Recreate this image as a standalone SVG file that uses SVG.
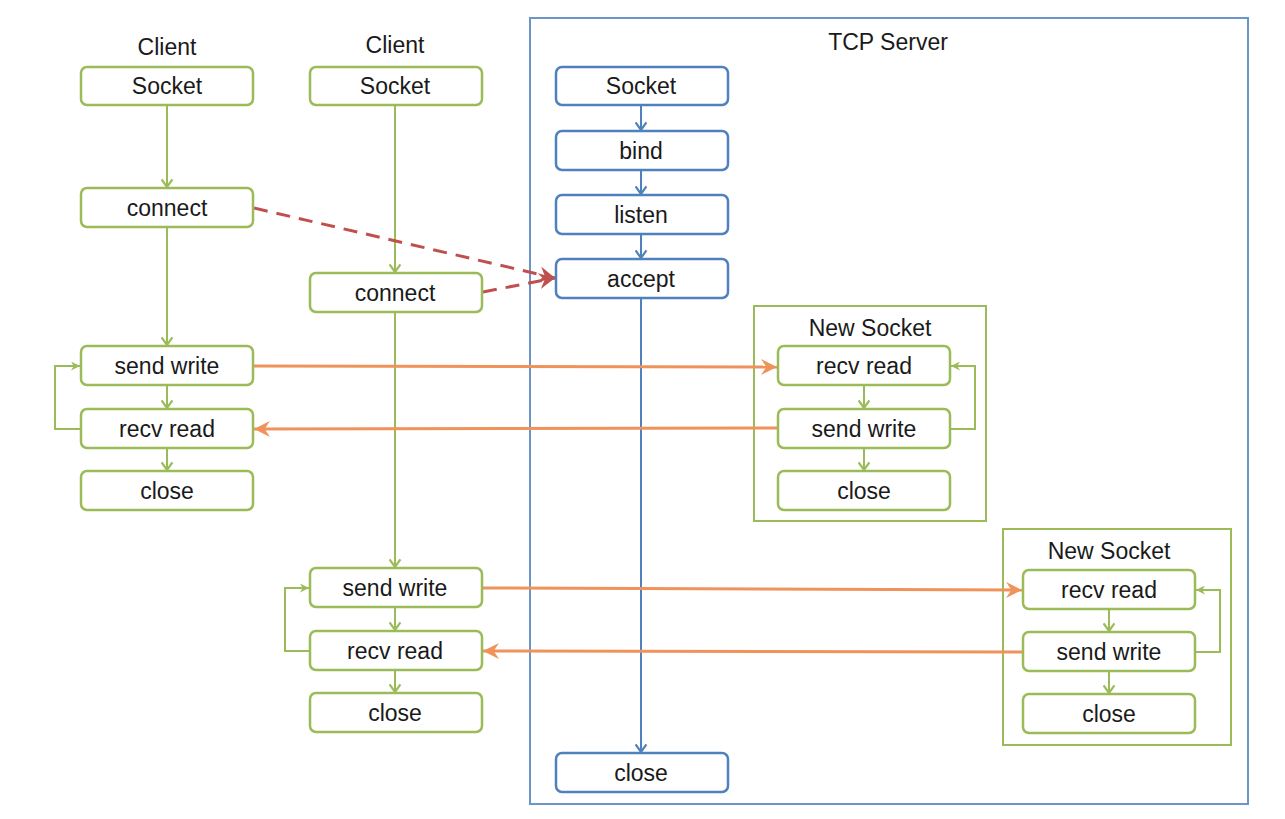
<svg xmlns="http://www.w3.org/2000/svg" width="1285" height="819" viewBox="0 0 1285 819">
<style>
.g{fill:#fff;stroke:#9bbb59;stroke-width:2.5}
.b{fill:#fff;stroke:#4f81bd;stroke-width:2.5}
.t{font-family:"Liberation Sans",Arial,sans-serif;font-size:23px;fill:#1a1a1a;text-anchor:middle;dominant-baseline:central}
.gl{fill:none;stroke:#9bbb59;stroke-width:2}
.bl{fill:none;stroke:#4f81bd;stroke-width:2}
.ol{fill:none;stroke:#f0935a;stroke-width:3}
.rl{fill:none;stroke:#c0504d;stroke-width:3;stroke-dasharray:14,9}
</style>
<defs>
<marker id="ag" viewBox="0 0 10 10" refX="10" refY="5" markerWidth="9" markerHeight="9" orient="auto" markerUnits="userSpaceOnUse"><path d="M0,0 L10,5 L0,10 L3,5 z" fill="#9bbb59"/></marker>
<marker id="agv" viewBox="0 0 12 12" refX="11" refY="6" markerWidth="13" markerHeight="13" orient="auto" markerUnits="userSpaceOnUse"><path d="M4,1 L11,6 L4,11" fill="none" stroke="#9bbb59" stroke-width="2"/></marker>
<marker id="abv" viewBox="0 0 12 12" refX="11" refY="6" markerWidth="13" markerHeight="13" orient="auto" markerUnits="userSpaceOnUse"><path d="M4,1 L11,6 L4,11" fill="none" stroke="#4f81bd" stroke-width="2"/></marker>
<marker id="ao" viewBox="0 0 12 12" refX="12" refY="6" markerWidth="16" markerHeight="16" orient="auto" markerUnits="userSpaceOnUse"><path d="M0,0 L12,6 L0,12 L4,6 z" fill="#f0935a"/></marker>
<marker id="ar" viewBox="0 0 12 12" refX="12" refY="6" markerWidth="16" markerHeight="16" orient="auto" markerUnits="userSpaceOnUse"><path d="M0,0 L12,6 L0,12 L4,6 z" fill="#c0504d"/></marker>
</defs>
<rect width="1285" height="819" fill="#fff"/>

<g id="server">
<rect x="530" y="18" width="718" height="786" fill="none" stroke="#6b94c8" stroke-width="2"/>
<text class="t" x="888" y="42">TCP Server</text>
</g>
<g id="newsocket1">
<rect x="754" y="306" width="232" height="215" fill="none" stroke="#9bbb59" stroke-width="2"/>
<text class="t" x="870" y="328">New Socket</text>
</g>
<g id="newsocket2">
<rect x="1003" y="529" width="228" height="216" fill="none" stroke="#9bbb59" stroke-width="2"/>
<text class="t" x="1109" y="551">New Socket</text>
</g>
<g id="client1-label"><text class="t" x="167" y="47">Client</text></g>
<g id="client2-label"><text class="t" x="395" y="45">Client</text></g>

<g id="connectors">
<line class="gl" x1="167" y1="106" x2="167" y2="187" marker-end="url(#agv)"/>
<line class="gl" x1="167" y1="228" x2="167" y2="345" marker-end="url(#agv)"/>
<line class="gl" x1="167" y1="386" x2="167" y2="408" marker-end="url(#agv)"/>
<line class="gl" x1="167" y1="449" x2="167" y2="470" marker-end="url(#agv)"/>
<path class="gl" d="M81,429 H55 V366 H80" marker-end="url(#ag)"/>

<line class="gl" x1="395" y1="106" x2="395" y2="272" marker-end="url(#agv)"/>
<line class="gl" x1="395" y1="313" x2="395" y2="567" marker-end="url(#agv)"/>
<line class="gl" x1="395" y1="608" x2="395" y2="630" marker-end="url(#agv)"/>
<line class="gl" x1="395" y1="671" x2="395" y2="692" marker-end="url(#agv)"/>
<path class="gl" d="M310,651 H285 V588 H309" marker-end="url(#ag)"/>

<line class="bl" x1="641" y1="106" x2="641" y2="130" marker-end="url(#abv)"/>
<line class="bl" x1="641" y1="171" x2="641" y2="194" marker-end="url(#abv)"/>
<line class="bl" x1="641" y1="235" x2="641" y2="258" marker-end="url(#abv)"/>
<line class="bl" x1="641" y1="299" x2="641" y2="752" marker-end="url(#abv)"/>

<line class="gl" x1="864" y1="386" x2="864" y2="408" marker-end="url(#agv)"/>
<line class="gl" x1="864" y1="449" x2="864" y2="470" marker-end="url(#agv)"/>
<path class="gl" d="M950,429 H975 V366 H951" marker-end="url(#ag)"/>

<line class="gl" x1="1109" y1="610" x2="1109" y2="631" marker-end="url(#agv)"/>
<line class="gl" x1="1109" y1="672" x2="1109" y2="693" marker-end="url(#agv)"/>
<path class="gl" d="M1195,652 H1220 V590 H1196" marker-end="url(#ag)"/>

<line class="rl" x1="254" y1="208" x2="555" y2="278" marker-end="url(#ar)"/>
<line class="rl" x1="483" y1="292" x2="555" y2="278" marker-end="url(#ar)"/>

<line class="ol" x1="254" y1="366" x2="777" y2="367" marker-end="url(#ao)"/>
<line class="ol" x1="778" y1="428" x2="254" y2="429" marker-end="url(#ao)"/>
<line class="ol" x1="483" y1="588" x2="1022" y2="590" marker-end="url(#ao)"/>
<line class="ol" x1="1023" y1="652" x2="483" y2="651" marker-end="url(#ao)"/>
</g>

<g id="c1-socket"><rect class="g" x="81" y="67" width="172" height="38" rx="6"/><text class="t" x="167" y="86">Socket</text></g>
<g id="c1-connect"><rect class="g" x="81" y="188" width="172" height="39" rx="6"/><text class="t" x="167" y="208">connect</text></g>
<g id="c1-send"><rect class="g" x="81" y="346" width="172" height="39" rx="6"/><text class="t" x="167" y="366">send write</text></g>
<g id="c1-recv"><rect class="g" x="81" y="409" width="172" height="39" rx="6"/><text class="t" x="167" y="429">recv read</text></g>
<g id="c1-close"><rect class="g" x="81" y="471" width="172" height="39" rx="6"/><text class="t" x="167" y="491">close</text></g>

<g id="c2-socket"><rect class="g" x="310" y="67" width="172" height="38" rx="6"/><text class="t" x="395" y="86">Socket</text></g>
<g id="c2-connect"><rect class="g" x="310" y="273" width="172" height="39" rx="6"/><text class="t" x="395" y="293">connect</text></g>
<g id="c2-send"><rect class="g" x="310" y="568" width="172" height="39" rx="6"/><text class="t" x="395" y="588">send write</text></g>
<g id="c2-recv"><rect class="g" x="310" y="631" width="172" height="39" rx="6"/><text class="t" x="395" y="651">recv read</text></g>
<g id="c2-close"><rect class="g" x="310" y="693" width="172" height="39" rx="6"/><text class="t" x="395" y="713">close</text></g>

<g id="s-socket"><rect class="b" x="556" y="67" width="172" height="38" rx="6"/><text class="t" x="641" y="86">Socket</text></g>
<g id="s-bind"><rect class="b" x="556" y="131" width="172" height="39" rx="6"/><text class="t" x="641" y="151">bind</text></g>
<g id="s-listen"><rect class="b" x="556" y="195" width="172" height="39" rx="6"/><text class="t" x="641" y="215">listen</text></g>
<g id="s-accept"><rect class="b" x="556" y="259" width="172" height="39" rx="6"/><text class="t" x="641" y="279">accept</text></g>
<g id="s-close"><rect class="b" x="556" y="753" width="172" height="39" rx="6"/><text class="t" x="641" y="773">close</text></g>

<g id="n1-recv"><rect class="g" x="778" y="346" width="172" height="39" rx="6"/><text class="t" x="864" y="366">recv read</text></g>
<g id="n1-send"><rect class="g" x="778" y="409" width="172" height="39" rx="6"/><text class="t" x="864" y="429">send write</text></g>
<g id="n1-close"><rect class="g" x="778" y="471" width="172" height="39" rx="6"/><text class="t" x="864" y="491">close</text></g>

<g id="n2-recv"><rect class="g" x="1023" y="570" width="172" height="39" rx="6"/><text class="t" x="1109" y="590">recv read</text></g>
<g id="n2-send"><rect class="g" x="1023" y="632" width="172" height="39" rx="6"/><text class="t" x="1109" y="652">send write</text></g>
<g id="n2-close"><rect class="g" x="1023" y="694" width="172" height="39" rx="6"/><text class="t" x="1109" y="714">close</text></g>
</svg>
